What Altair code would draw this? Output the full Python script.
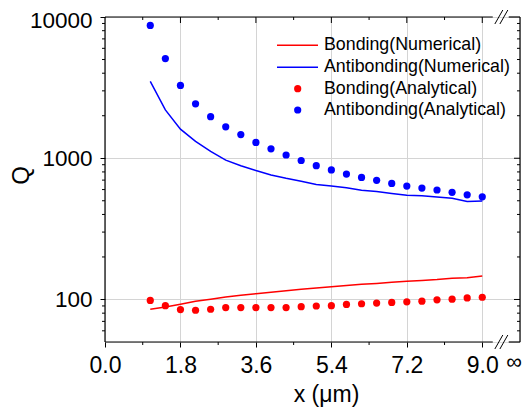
import altair as alt
import pandas as pd

# ---------------- data ----------------
x_um = [1.08, 1.44, 1.80, 2.16, 2.52, 2.88, 3.24, 3.60, 3.96, 4.32, 4.68, 5.04,
        5.40, 5.76, 6.12, 6.48, 6.84, 7.20, 7.56, 7.92, 8.28, 8.64, 9.00]
bonding_numerical = [85.4, 88.5, 92.5, 97, 100.5, 104, 107, 110, 112.7, 115.5, 118, 120.5,
                     123, 125.5, 128, 130, 132.5, 134.5, 136.5, 138.5, 141.5, 142.5, 146.5]
antibonding_numerical = [3500, 2200, 1608, 1316, 1117, 969, 886, 818, 760, 721, 688, 652,
                         635, 618, 593, 581, 563, 548, 542, 531, 520, 495, 498]
bonding_analytical = [98.4, 90.4, 84.8, 83.9, 85.3, 87.6, 87.6, 87.6, 87.6, 87.6, 88.9, 89.9,
                      90.4, 92.3, 93.3, 94.3, 95.3, 96.3, 97.3, 99.4, 100.5, 102.6, 103.7]
antibonding_analytical = [8710, 5080, 3280, 2430, 1970, 1670, 1470, 1295, 1165, 1054, 964, 886,
                          827, 772, 732, 698, 663, 635, 615, 596, 574, 551, 533]

series_names = ["Bonding(Numerical)", "Antibonding(Numerical)",
                "Bonding(Analytical)", "Antibonding(Analytical)"]
series_colors = ["#ff0000", "#0000ff", "#ff0000", "#0000ff"]
series_kinds = ["line", "line", "point", "point"]

x_major = [0.0, 1.8, 3.6, 5.4, 7.2, 9.0]
x_inf = [9.9]          # position of the "∞" label
inf_label = ["∞"]
x_minor = [0.9, 2.7, 4.5, 6.3, 8.1]
y_major = [100, 1000, 10000]
y_minor = [60, 70, 80, 90, 200, 300, 400, 500, 600, 700, 800, 900,
           2000, 3000, 4000, 5000, 6000, 7000, 8000, 9000]
break_gap = [(0.0, 9.25), (9.63, 9.9)]          # axis segments around the break
break_slashes = [(9.30, 9.49), (9.42, 9.61)]

# ---------------- layout (whole svg kept inside the 530x419 page) ----------------
W, H = 415, 325
PAD = {"left": 97, "top": 9, "right": 2, "bottom": 65}
FONT = "Liberation Sans"

rows = []
for name, vals in zip(series_names, [bonding_numerical, antibonding_numerical,
                                     bonding_analytical, antibonding_analytical]):
    for xv, qv in zip(x_um, vals):
        rows.append({"series": name, "x": xv, "q": qv})
df = pd.DataFrame(rows)

X_ENC = alt.X(
    "x:Q",
    scale=alt.Scale(domain=[0, 9.9], nice=False, zero=False),
    axis=alt.Axis(
        values=x_major,
        format=".1f",
        labelFont=FONT, labelFontSize=23, labelColor="black",
        labelBaseline="alphabetic", labelPadding=25,
        labelFlush=False, labelOverlap=False,
        tickSize=5, tickColor="black", tickWidth=1,
        domain=False,
        grid=True, gridColor="#d4d4d4", gridWidth=1,
        title="x (μm)", titleFont=FONT, titleFontSize=23, titleFontWeight="normal",
        titleColor="black", titleX=221, titleY=59, titleBaseline="alphabetic",
        titleAlign="center",
    ),
)
Y_ENC = alt.Y(
    "q:Q",
    scale=alt.Scale(type="log", domain=[50, 10000], nice=False),
    axis=alt.Axis(
        values=y_major,
        labelExpr="format(datum.value, 'd')",
        labelFont=FONT, labelFontSize=22.5, labelColor="black",
        labelPadding=8, labelFlush=False, labelOverlap=False,
        labelOffset={"condition": {"test": "datum.value == 10000", "value": 3}, "value": 0},
        tickSize=5, tickColor="black", tickWidth=1,
        domain=False,
        grid=True, gridColor="#d4d4d4", gridWidth=1,
        title="Q", titleFont=FONT, titleFontSize=24, titleFontWeight="normal",
        titleColor="black", titleX=-84, titleY=158, titleAngle=270,
        titleBaseline="middle", titleAlign="center",
    ),
)

layers = []

# data marks
for name, color, kind in zip(series_names, series_colors, series_kinds):
    base = alt.Chart(df).transform_filter(alt.datum.series == name)
    if kind == "line":
        layers.append(base.mark_line(color=color, strokeWidth=1.5).encode(x=X_ENC, y=Y_ENC))
    else:
        layers.append(base.mark_circle(color=color, size=52, opacity=1).encode(x=X_ENC, y=Y_ENC))

# "∞" label at the right end of the x axis
layers.append(alt.Chart(pd.DataFrame({"x": x_inf, "label": inf_label})).mark_text(
    font=FONT, fontSize=22, color="black", align="right", baseline="alphabetic", dx=2).encode(
    x=X_ENC, y=alt.value(H + 27), text="label:N"))

# x minor ticks (bottom, outward) and top ticks (inward)
dmin = pd.DataFrame({"x": x_minor})
dmaj = pd.DataFrame({"x": x_major[1:]})
layers.append(alt.Chart(dmin).mark_rule(color="black").encode(x=X_ENC, y=alt.value(H), y2=alt.value(H + 3)))
layers.append(alt.Chart(dmin).mark_rule(color="black").encode(x=X_ENC, y=alt.value(0), y2=alt.value(3)))
layers.append(alt.Chart(dmaj).mark_rule(color="black").encode(x=X_ENC, y=alt.value(0), y2=alt.value(6)))

# y minor ticks (left outward, right inward) and right major ticks
ymin = pd.DataFrame({"q": y_minor})
ymaj = pd.DataFrame({"q": y_major[:-1]})
layers.append(alt.Chart(ymin).mark_rule(color="black").encode(y=Y_ENC, x=alt.value(-3), x2=alt.value(0)))
layers.append(alt.Chart(ymin).mark_rule(color="black").encode(y=Y_ENC, x=alt.value(W - 3), x2=alt.value(W)))
layers.append(alt.Chart(ymaj).mark_rule(color="black").encode(y=Y_ENC, x=alt.value(W - 6), x2=alt.value(W)))

# frame
dseg = pd.DataFrame({"x": [a for a, b in break_gap], "x2": [b for a, b in break_gap]})
for yy in (0, H):
    layers.append(alt.Chart(dseg).mark_rule(color="black", strokeWidth=1.2).encode(
        x=X_ENC, x2=alt.X2("x2"), y=alt.value(yy)))
for xx in (0, W):
    layers.append(alt.Chart(pd.DataFrame({"k": [0]})).mark_rule(color="black", strokeWidth=1.2).encode(
        x=alt.value(xx), y=alt.value(0), y2=alt.value(H)))

# break slashes
dsl = pd.DataFrame({"x": [a for a, b in break_slashes], "x2": [b for a, b in break_slashes]})
for yy in (0, H):
    layers.append(alt.Chart(dsl).mark_rule(color="black", strokeWidth=1).encode(
        x=X_ENC, x2=alt.X2("x2"), y=alt.value(yy + 7), y2=alt.value(yy - 7)))

# legend (manual)
LEG_Y = [28.3, 50.3, 71.7, 93.0]
for name, color, kind, ly in zip(series_names, series_colors, series_kinds, LEG_Y):
    d = pd.DataFrame({"label": [name]})
    if kind == "line":
        layers.append(alt.Chart(d).mark_rule(color=color, strokeWidth=1.5).encode(
            x=alt.value(172), x2=alt.value(213), y=alt.value(ly)))
    else:
        layers.append(alt.Chart(d).mark_circle(color=color, size=52, opacity=1).encode(
            x=alt.value(192.7), y=alt.value(ly)))
    layers.append(alt.Chart(d).mark_text(
        align="left", baseline="middle", font=FONT, fontSize=17.8, color="black").encode(
        x=alt.value(219), y=alt.value(ly), text="label:N"))

chart = alt.layer(*layers).properties(
    width=W, height=H,
    autosize=alt.AutoSizeParams(type="none"),
    padding=PAD,
).configure_view(stroke=None).configure(background="white")

chart.save("out.html", embed_options={"renderer": "svg", "actions": False})
